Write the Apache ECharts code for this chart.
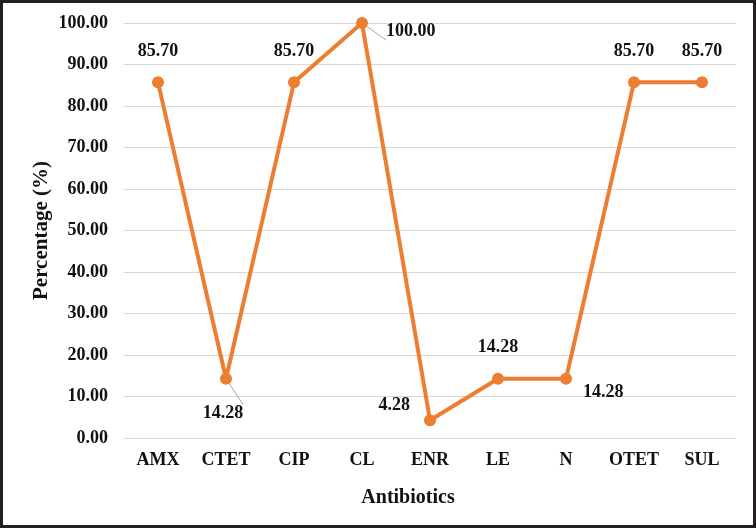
<!DOCTYPE html>
<html>
<head>
<meta charset="utf-8">
<script src="https://cdn.jsdelivr.net/npm/echarts@6/dist/echarts.min.js"></script>
<style>
  html, body { margin: 0; padding: 0; background: #fff; }
  #chart { width: 756px; height: 528px; box-sizing: border-box; border: 3px solid #231f20; }
</style>
</head>
<body>
<div id="chart"></div>
<script>
// 数据
var categories = ['AMX', 'CTET', 'CIP', 'CL', 'ENR', 'LE', 'N', 'OTET', 'SUL'];
var percentages = [85.70, 14.28, 85.70, 100.00, 4.28, 14.28, 14.28, 85.70, 85.70];

(function () {
  var font = '"Liberation Serif", "Times New Roman", serif';
  // 每个点的标签位置（样式，不是数据）
  var labelStyle = {
    CTET: { position: 'bottom', distance: 20, offset: [-3, 0] },
    CL: { position: 'right', distance: 18, offset: [0, 8] },
    ENR: { position: 'left', distance: 14, offset: [0, -15] },
    N: { position: 'right', distance: 11, offset: [0, 14] }
  };
  var leader = { CTET: true, CL: true };

  var seriesData = percentages.map(function (v, i) {
    var name = categories[i];
    var item = { value: v };
    item.label = labelStyle[name] || { position: 'top', distance: 16 };
    if (leader[name]) {
      item.labelLine = { show: true, lineStyle: { color: '#a6a6a6', width: 1 } };
    }
    return item;
  });

  var myChart = echarts.init(document.getElementById('chart'));
  var option = {
    animation: false,
    grid: { left: 121, right: 17, top: 20, bottom: 87 },
    xAxis: {
      type: 'category',
      data: categories,
      name: 'Antibiotics',
      nameLocation: 'middle',
      nameGap: 50,
      nameMoveOverlap: false,
      nameTextStyle: { fontFamily: font, fontWeight: 'bold', fontSize: 20, color: '#111', padding: [0, 44, 0, 0] },
      axisLine: { show: false },
      axisTick: { show: false },
      axisLabel: { fontFamily: font, fontWeight: 'bold', fontSize: 18, color: '#111', margin: 13 }
    },
    yAxis: {
      type: 'value',
      min: 0,
      max: 100,
      interval: 10,
      name: 'Percentage (%)',
      nameLocation: 'middle',
      nameGap: 72,
      nameMoveOverlap: false,
      nameTextStyle: { fontFamily: font, fontWeight: 'bold', fontSize: 21, color: '#111' },
      axisLine: { show: false },
      axisTick: { show: false },
      splitLine: { lineStyle: { color: '#d9d9d9', width: 1 } },
      axisLabel: {
        fontFamily: font, fontWeight: 'bold', fontSize: 18, color: '#111', margin: 16,
        formatter: function (v) { return v.toFixed(2); }
      }
    },
    series: [{
      type: 'line',
      data: seriesData,
      symbol: 'circle',
      symbolSize: 12,
      lineStyle: { color: '#ED7D31', width: 4 },
      itemStyle: { color: '#ED7D31' },
      label: {
        show: true,
        fontFamily: font, fontWeight: 'bold', fontSize: 18, color: '#111',
        formatter: function (p) { return p.value.toFixed(2); }
      }
    }]
  };
  myChart.setOption(option);
})();
</script>
</body>
</html>
